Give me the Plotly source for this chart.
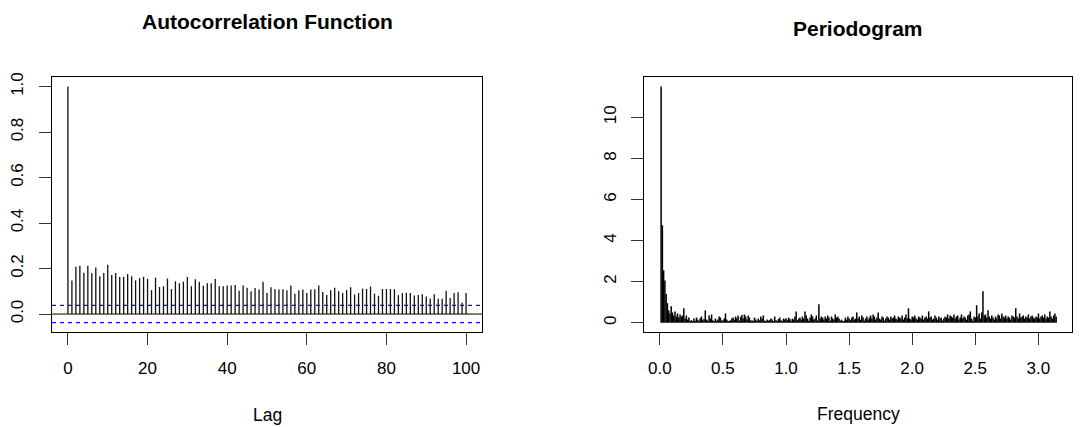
import plotly.graph_objects as go
import math

# ---- ACF data (lags 0..100) ----
acf_lags = list(range(0, 101))
acf_values = [
    1.0,
    0.147, 0.208, 0.212, 0.182, 0.212, 0.179, 0.205, 0.166, 0.180, 0.217,
    0.172, 0.180, 0.163, 0.164, 0.176, 0.166, 0.148, 0.158, 0.164, 0.155,
    0.105, 0.160, 0.119, 0.122, 0.156, 0.110, 0.144, 0.135, 0.142, 0.163,
    0.122, 0.153, 0.142, 0.124, 0.135, 0.135, 0.154, 0.122, 0.122, 0.125,
    0.125, 0.128, 0.102, 0.126, 0.116, 0.100, 0.115, 0.108, 0.142, 0.093,
    0.118, 0.109, 0.108, 0.109, 0.105, 0.125, 0.089, 0.105, 0.108, 0.092,
    0.108, 0.109, 0.125, 0.097, 0.084, 0.105, 0.116, 0.100, 0.093, 0.105,
    0.118, 0.086, 0.092, 0.112, 0.110, 0.121, 0.090, 0.080, 0.110, 0.110,
    0.110, 0.109, 0.083, 0.092, 0.094, 0.092, 0.081, 0.084, 0.087, 0.077,
    0.068, 0.087, 0.067, 0.067, 0.102, 0.071, 0.092, 0.096, 0.051, 0.092,
]
acf_ci = 0.038
acf_xticks = [0, 20, 40, 60, 80, 100]
acf_yticks = [0.0, 0.2, 0.4, 0.6, 0.8, 1.0]
acf_yticklabels = ["0.0", "0.2", "0.4", "0.6", "0.8", "1.0"]

# ---- Periodogram data (314 Fourier frequencies on (0, pi]) ----
pg_values = [
    11.5, 4.75, 2.55, 2.05, 1.4, 0.95, 0.6, 0.45, 0.8, 0.5,
    0.35, 0.55, 0.3, 0.45, 0.25, 0.4, 0.3, 0.35, 0.7, 0.2,
    0.35, 0.15, 0.25, 0.1, 0.12, 0.08, 0.2, 0.1, 0.25, 0.15,
    0.1, 0.22, 0.3, 0.12, 0.18, 0.6, 0.15, 0.1, 0.35, 0.2,
    0.4, 0.12, 0.08, 0.2, 0.1, 0.15, 0.3, 0.25, 0.1, 0.12,
    0.2, 0.45, 0.15, 0.1, 0.08, 0.12, 0.2, 0.25, 0.15, 0.3,
    0.22, 0.35, 0.1, 0.28, 0.38, 0.2, 0.4, 0.3, 0.15, 0.35,
    0.25, 0.1, 0.12, 0.08, 0.25, 0.15, 0.1, 0.2, 0.12, 0.3,
    0.2, 0.35, 0.1, 0.08, 0.15, 0.1, 0.12, 0.2, 0.15, 0.08,
    0.3, 0.12, 0.1, 0.18, 0.25, 0.12, 0.08, 0.2, 0.15, 0.22,
    0.12, 0.25, 0.18, 0.1, 0.2, 0.15, 0.3, 0.55, 0.12, 0.2,
    0.25, 0.15, 0.3, 0.2, 0.55, 0.35, 0.2, 0.1, 0.25, 0.4,
    0.3, 0.15, 0.2, 0.35, 0.1, 0.9, 0.2, 0.3, 0.25, 0.15,
    0.3, 0.2, 0.35, 0.25, 0.1, 0.3, 0.2, 0.15, 0.4, 0.25,
    0.3, 0.2, 0.1, 0.15, 0.08, 0.1, 0.25, 0.15, 0.3, 0.2,
    0.12, 0.25, 0.3, 0.15, 0.2, 0.5, 0.2, 0.3, 0.15, 0.35,
    0.25, 0.1, 0.2, 0.3, 0.15, 0.25, 0.35, 0.2, 0.4, 0.3,
    0.15, 0.25, 0.5, 0.2, 0.15, 0.3, 0.25, 0.1, 0.2, 0.3,
    0.25, 0.15, 0.3, 0.2, 0.25, 0.35, 0.2, 0.15, 0.3, 0.25,
    0.2, 0.35, 0.15, 0.25, 0.4, 0.2, 0.7, 0.2, 0.15, 0.3,
    0.25, 0.35, 0.2, 0.15, 0.3, 0.25, 0.2, 0.35, 0.15, 0.25,
    0.3, 0.2, 0.55, 0.25, 0.3, 0.15, 0.2, 0.35, 0.25, 0.15,
    0.3, 0.2, 0.25, 0.1, 0.2, 0.3, 0.25, 0.4, 0.2, 0.35,
    0.3, 0.25, 0.4, 0.2, 0.3, 0.35, 0.15, 0.25, 0.4, 0.2,
    0.3, 0.25, 0.15, 0.35, 0.4, 0.55, 0.2, 0.1, 0.3, 0.25,
    0.85, 0.3, 0.45, 0.2, 0.5, 1.53, 0.35, 0.4, 0.25, 0.6,
    0.3, 0.2, 0.35, 0.25, 0.15, 0.3, 0.2, 0.4, 0.35, 0.2,
    0.45, 0.3, 0.25, 0.35, 0.2, 0.3, 0.25, 0.15, 0.35, 0.3,
    0.25, 0.7, 0.3, 0.2, 0.45, 0.25, 0.3, 0.35, 0.2, 0.3,
    0.25, 0.4, 0.2, 0.3, 0.35, 0.25, 0.2, 0.3, 0.25, 0.45,
    0.2, 0.3, 0.35, 0.25, 0.4, 0.2, 0.3, 0.25, 0.55, 0.3,
    0.2, 0.35, 0.45, 0.3,
]
pg_freqs = [(k + 1) * math.pi / len(pg_values) for k in range(len(pg_values))]
pg_xticks = [0.0, 0.5, 1.0, 1.5, 2.0, 2.5, 3.0]
pg_xticklabels = ["0.0", "0.5", "1.0", "1.5", "2.0", "2.5", "3.0"]
pg_yticks = [0, 2, 4, 6, 8, 10]

FONT = "Liberation Sans, Arial, Helvetica, sans-serif"
W, H = 1091, 427


def stems(xs, ys):
    X, Y = [], []
    for x, y in zip(xs, ys):
        X += [x, x, None]
        Y += [0, y, None]
    return X, Y


fig = go.Figure()

ax, ay = stems(acf_lags, acf_values)
fig.add_trace(go.Scatter(x=ax, y=ay, mode="lines", line=dict(color="#111111", width=1.3),
                         xaxis="x", yaxis="y", hoverinfo="skip", showlegend=False))

px_, py_ = stems(pg_freqs, pg_values)
fig.add_trace(go.Scatter(x=px_, y=py_, mode="lines", line=dict(color="#000000", width=1.5),
                         xaxis="x2", yaxis="y2", hoverinfo="skip", showlegend=False))


def rrange(lo, hi):
    d = (hi - lo) * 0.04
    return [lo - d, hi + d]


acf_yr = rrange(-acf_ci, max(acf_values))
pg_yr = rrange(0, max(pg_values))
pg_xr = rrange(0, math.pi)


def px(v):
    return v / W


def py(v):
    return 1 - v / H


axis_common = dict(showline=True, linecolor="black", linewidth=1, mirror=True,
                   ticks="outside", ticklen=12, tickwidth=1, tickcolor="#333333",
                   showgrid=False, zeroline=False,
                   tickfont=dict(family=FONT, size=17, color="black"))

fig.update_layout(
    width=W, height=H,
    margin=dict(l=0, r=0, t=0, b=0),
    paper_bgcolor="white", plot_bgcolor="white",
    xaxis=dict(domain=[px(52), px(482)], range=[-4, 104], tickvals=acf_xticks,
               anchor="y", ticklabelstandoff=8, **axis_common),
    yaxis=dict(domain=[py(331), py(73)], range=acf_yr, tickvals=acf_yticks,
               ticktext=acf_yticklabels, tickangle=-90, anchor="x",
               ticklabelstandoff=9, **axis_common),
    xaxis2=dict(domain=[px(644), px(1072)], range=pg_xr, tickvals=pg_xticks,
                ticktext=pg_xticklabels, anchor="y2", ticklabelstandoff=8, **axis_common),
    yaxis2=dict(domain=[py(331), py(73)], range=pg_yr, tickvals=pg_yticks,
                tickangle=-90, anchor="x2", ticklabelstandoff=8, **axis_common),
    shapes=[
        dict(type="line", xref="x domain", yref="y", x0=0, x1=1, y0=0, y1=0,
             line=dict(color="black", width=1)),
        dict(type="line", xref="x domain", yref="y", x0=0, x1=1, y0=acf_ci, y1=acf_ci,
             line=dict(color="#0000FF", width=1.2, dash="4px,4px")),
        dict(type="line", xref="x domain", yref="y", x0=0, x1=1, y0=-acf_ci, y1=-acf_ci,
             line=dict(color="#0000FF", width=1.2, dash="4px,4px")),
    ],
    annotations=[
        dict(text="<b>Autocorrelation Function</b>", x=px(267), y=py(17), xref="paper", yref="paper",
             showarrow=False, xanchor="center", yanchor="middle",
             font=dict(family=FONT, size=21, color="black")),
        dict(text="<b>Periodogram</b>", x=px(858), y=py(24), xref="paper", yref="paper",
             showarrow=False, xanchor="center", yanchor="middle",
             font=dict(family=FONT, size=21, color="black")),
        dict(text="Lag", x=px(267), y=py(415), xref="paper", yref="paper",
             showarrow=False, xanchor="center", yanchor="middle",
             font=dict(family=FONT, size=17.5, color="black")),
        dict(text="Frequency", x=px(858), y=py(414), xref="paper", yref="paper",
             showarrow=False, xanchor="center", yanchor="middle",
             font=dict(family=FONT, size=17.5, color="black")),
    ],
)

fig.write_html("out.html", config={"displayModeBar": False},
               post_script="document.body.style.margin='0px';")
